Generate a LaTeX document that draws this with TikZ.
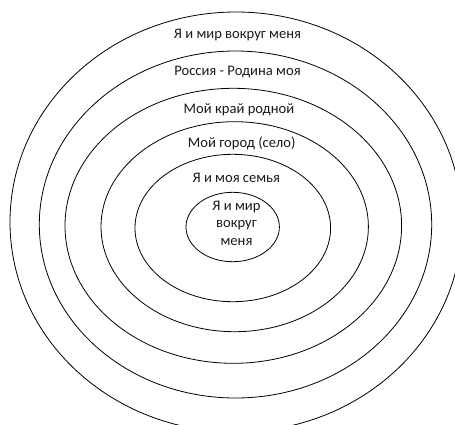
\documentclass[tikz,border=0pt]{standalone}
\usepackage{fontspec}
\setmainfont{Carlito}
\usetikzlibrary{shapes.geometric}
\definecolor{txt}{HTML}{1A1A1A}
\begin{document}
\begin{tikzpicture}[x=1pt,y=-1pt,
  ring/.style={ellipse,draw=black,line width=0.8pt,inner sep=0pt},
  lbl/.style={text=txt,font=\fontsize{14.6}{17.5}\selectfont,inner sep=0pt,align=center}]
\clip (0,0) rectangle (455,424);
\fill[white] (0,0) rectangle (455,424);
\node[ring,minimum width=452pt,minimum height=420pt] (r1) at (236,222) {};
\node[ring,minimum width=392.4pt,minimum height=347pt] (r2) at (235.5,224.5) {};
\node[ring,minimum width=336.6pt,minimum height=275pt] (r3) at (233.3,225.8) {};
\node[ring,minimum width=267.4pt,minimum height=210pt] (r4) at (234.7,226.7) {};
\node[ring,minimum width=195.6pt,minimum height=147.4pt] (r5) at (232.8,228) {};
\node[ring,minimum width=93.4pt,minimum height=69.4pt] (r6) at (232.7,227) {};
\node[lbl] (t1) at (237.5,35) {Я и мир вокруг меня};
\node[lbl] (t2) at (237.5,71.7) {Россия - Родина моя};
\node[lbl] (t3) at (239,110) {Мой край родной};
\node[lbl] (t4) at (241.7,143.3) {Мой город (село)};
\node[lbl] (t5) at (236.3,177.7) {Я и моя семья};
\node[lbl] (t6) at (236.5,223.3) {Я и мир\\вокруг\\меня};
\end{tikzpicture}
\end{document}
